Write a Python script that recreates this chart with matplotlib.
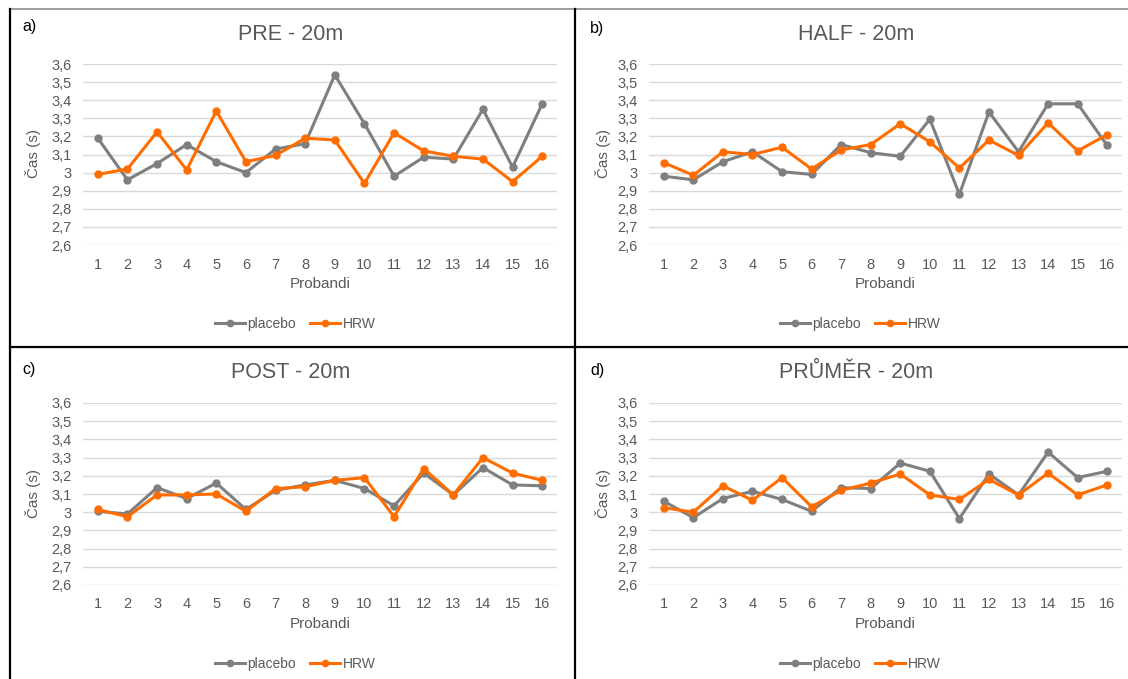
import matplotlib
matplotlib.use("Agg")
import matplotlib.pyplot as plt
from matplotlib.lines import Line2D

plt.rcParams['font.family'] = ['Liberation Sans', 'DejaVu Sans']

probandi = list(range(1, 17))
x_labels = [str(i) for i in probandi]
y_ticks = [2.6, 2.7, 2.8, 2.9, 3.0, 3.1, 3.2, 3.3, 3.4, 3.5, 3.6]
y_tick_labels = ["2,6", "2,7", "2,8", "2,9", "3", "3,1", "3,2", "3,3", "3,4", "3,5", "3,6"]

titles = ["PRE - 20m", "HALF - 20m", "POST - 20m", "PRŮMĚR - 20m"]
panel_letters = ["a)", "b)", "c)", "d)"]

pre_placebo = [3.19, 2.96, 3.05, 3.155, 3.06, 3.00, 3.13, 3.16, 3.54, 3.27, 2.98, 3.085, 3.075, 3.35, 3.03, 3.38]
pre_hrw = [2.99, 3.02, 3.225, 3.015, 3.34, 3.06, 3.095, 3.19, 3.18, 2.94, 3.22, 3.12, 3.09, 3.075, 2.95, 3.09]

half_placebo = [2.98, 2.96, 3.06, 3.115, 3.005, 2.99, 3.155, 3.11, 3.09, 3.295, 2.88, 3.335, 3.115, 3.38, 3.38, 3.15]
half_hrw = [3.055, 2.985, 3.115, 3.10, 3.14, 3.02, 3.125, 3.155, 3.27, 3.17, 3.025, 3.18, 3.095, 3.275, 3.12, 3.21]

post_placebo = [3.005, 2.99, 3.135, 3.075, 3.16, 3.015, 3.12, 3.15, 3.175, 3.13, 3.035, 3.215, 3.095, 3.245, 3.15, 3.145]
post_hrw = [3.015, 2.975, 3.095, 3.095, 3.10, 3.005, 3.13, 3.14, 3.175, 3.19, 2.975, 3.24, 3.095, 3.30, 3.215, 3.175]

avg_placebo = [3.06, 2.97, 3.075, 3.115, 3.07, 3.005, 3.135, 3.13, 3.27, 3.225, 2.965, 3.21, 3.095, 3.33, 3.19, 3.225]
avg_hrw = [3.025, 3.00, 3.145, 3.065, 3.19, 3.03, 3.12, 3.16, 3.21, 3.095, 3.07, 3.18, 3.095, 3.215, 3.095, 3.15]

series = [(pre_placebo, pre_hrw), (half_placebo, half_hrw),
          (post_placebo, post_hrw), (avg_placebo, avg_hrw)]

W, H = 1128, 679
fig = plt.figure(figsize=(W / 100, H / 100), dpi=100)
fig.patch.set_facecolor("white")

GRAY = "#7f7f7f"
ORANGE = "#ff6d00"
TXT = "#595959"

# plot-area pixel boxes: (x_left, x_right, y_top, y_bottom)
boxes = [(83, 557, 64, 245), (649, 1122, 64, 245),
         (83, 557, 403, 585), (649, 1122, 403, 585)]
title_pos = [(291, 34), (856, 34), (291, 372), (856, 372)]
letter_pos = [(22, 27), (590, 28), (22, 370), (590, 371)]
ylabel_pos = [(33, 154), (603, 154), (33, 494), (603, 494)]
xlabel_y = [284, 284, 624, 624]
legend_pos = [(295, 324), (860, 324), (295, 664), (860, 664)]


def fx(px):
    return px / W


def fy(py):
    return 1 - py / H


for i in range(4):
    x0, x1, yt, yb = boxes[i]
    ax = fig.add_axes([fx(x0), fy(yb), (x1 - x0) / W, (yb - yt) / H])
    ax.set_xlim(0.5, 16.5)
    ax.set_ylim(2.6, 3.6)
    ax.set_yticks(y_ticks)
    ax.set_yticklabels(y_tick_labels)
    ax.set_xticks(probandi)
    ax.set_xticklabels(x_labels)
    ax.tick_params(axis='both', length=0, labelsize=10.5, labelcolor=TXT)
    ax.tick_params(axis='x', pad=9)
    ax.tick_params(axis='y', pad=8)
    for s in ax.spines.values():
        s.set_visible(False)
    ax.grid(axis='y', color="#d9d9d9", linewidth=1)
    ax.set_axisbelow(True)
    pl, hr = series[i]
    ax.plot(probandi, pl, color=GRAY, linewidth=2.2, marker='o', markersize=5,
            label="placebo", clip_on=False, zorder=3)
    ax.plot(probandi, hr, color=ORANGE, linewidth=2.2, marker='o', markersize=5,
            label="HRW", clip_on=False, zorder=4)

    fig.text(fx(title_pos[i][0]), fy(title_pos[i][1]), titles[i], fontsize=15.5,
             color=TXT, ha='center', va='center')
    fig.text(fx(letter_pos[i][0]), fy(letter_pos[i][1]), panel_letters[i], fontsize=11.5,
             color="black", ha='left', va='center')
    fig.text(fx(ylabel_pos[i][0]), fy(ylabel_pos[i][1]), "Čas (s)", fontsize=11,
             color=TXT, ha='center', va='center', rotation=90)
    fig.text(fx((x0 + x1) / 2), fy(xlabel_y[i]), "Probandi", fontsize=11,
             color=TXT, ha='center', va='center')
    ax.legend(loc='center', bbox_to_anchor=(fx(legend_pos[i][0]), fy(legend_pos[i][1])),
              bbox_transform=fig.transFigure, ncol=2, frameon=False, fontsize=10,
              handlelength=2.2, handletextpad=0.15, columnspacing=1.0,
              labelcolor=TXT, markerscale=0.9)

# panel borders
fig.add_artist(Line2D([fx(10), 1], [fy(9), fy(9)], color="#8c8c8c", linewidth=1.2))
fig.add_artist(Line2D([fx(10), fx(10)], [fy(9), 0], color="black", linewidth=1.6))
fig.add_artist(Line2D([fx(575), fx(575)], [fy(9), 0], color="black", linewidth=1.6))
fig.add_artist(Line2D([fx(10), 1], [fy(347), fy(347)], color="black", linewidth=1.6))

fig.savefig("out.png", dpi=100, facecolor="white")
